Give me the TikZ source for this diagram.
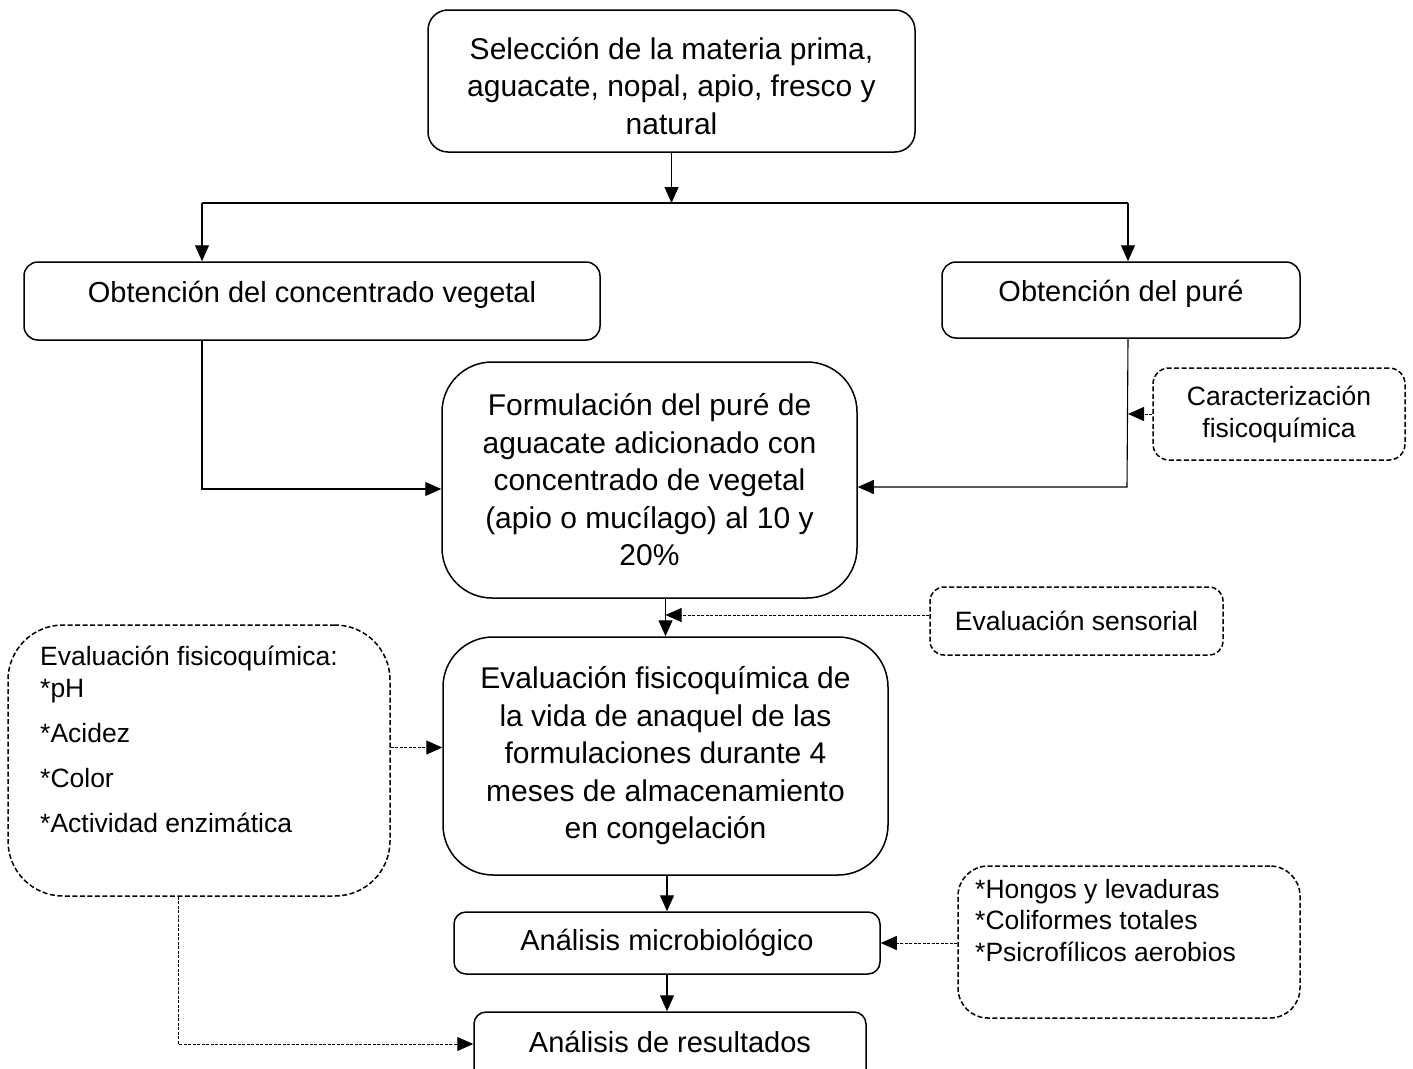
\documentclass[tikz,border=0pt]{standalone}
\usepackage{fontspec}
\setmainfont{Liberation Sans}
\usetikzlibrary{arrows.meta}
\begin{document}
\begin{tikzpicture}[x=1pt,y=-1pt,
  box/.style={draw, line width=1.5pt, rounded corners=#1, inner sep=0pt, align=center},
  dbox/.style={box=#1, dash pattern=on 5pt off 2.5pt},
  big/.style={font=\fontsize{30}{37.5}\selectfont},
  mid/.style={font=\fontsize{29}{36}\selectfont},
  small/.style={font=\fontsize{26.5}{32}\selectfont},
  ln/.style={line width=1.1pt},
  arr/.style={line width=1.1pt, -{Triangle[length=16pt,width=14pt]}},
  darr/.style={line width=1pt, dash pattern=on 3pt off 1.5pt, -{Triangle[length=16pt,width=14pt]}}
]
\useasboundingbox (0,0) rectangle (1413,1068);

% main boxes
\node[box=20pt, big, minimum width=487pt, minimum height=142pt] (top) at (671.5,81)
  {\\[-6pt]Selección de la materia prima,\\aguacate, nopal, apio, fresco y\\natural};
\node[box=14pt, mid, minimum width=576pt, minimum height=78pt, text depth=18pt] (conc) at (312,301)
  {Obtención del concentrado vegetal};
\node[box=14pt, mid, minimum width=358pt, minimum height=76pt, text depth=18pt] (pure) at (1121,300)
  {Obtención del puré};
\node[box=50pt, big, minimum width=415pt, minimum height=236pt] (form) at (649.5,480)
  {Formulación del puré de\\aguacate adicionado con\\concentrado de vegetal\\(apio o mucílago) al 10 y\\20\%};
\node[box=50pt, big, minimum width=445pt, minimum height=238pt] (eval) at (665.5,756)
  {Evaluación fisicoquímica de\\la vida de anaquel de las\\formulaciones durante 4\\meses de almacenamiento\\en congelación};
\node[box=12pt, mid, minimum width=426pt, minimum height=62pt] (micro) at (667,943)
  {Análisis microbiológico};
\node[box=12pt, mid, minimum width=392pt, minimum height=74pt, text depth=14pt] (res) at (670,1049)
  {Análisis de resultados};

% dashed side boxes
\node[dbox=16pt, small, minimum width=252pt, minimum height=92pt] (car) at (1279,414)
  {Caracterización\\fisicoquímica};
\node[dbox=14pt, small, minimum width=293pt, minimum height=68pt] (sens) at (1076.5,621)
  {Evaluación sensorial};
\node[dbox=55pt, minimum width=382pt, minimum height=271pt] (lbox) at (199,760.5) {};
\node[anchor=base west, inner sep=0pt, font=\fontsize{26.5}{32}\selectfont] (ltext) at (40,665)
  {\begin{tabular}[t]{@{}l@{}}Evaluación fisicoquímica:\\{}*pH\\[13pt]{}*Acidez\\[13pt]{}*Color\\[13pt]{}*Actividad enzimática\end{tabular}};
\node[dbox=30pt, minimum width=342pt, minimum height=152pt] (hbox) at (1129,942) {};
\node[anchor=base west, inner sep=0pt, font=\fontsize{26.5}{31.5}\selectfont] (htext) at (975,898)
  {\begin{tabular}[t]{@{}l@{}}*Hongos y levaduras\\{}*Coliformes totales\\{}*Psicrofílicos aerobios\end{tabular}};

% split
\coordinate (sM) at (671.5,203);
\coordinate (sL) at (202,203);
\coordinate (sR) at (1128,203);
\draw[arr] (top.south) -- (sM);
\draw[ln] (sL) -- (sR);
\draw[arr] (sL) -- (sL |- conc.north);
\draw[arr] (sR) -- (sR |- pure.north);

% into formulation
\coordinate (jL) at (202,489);
\coordinate (jR) at (1127,487);
\draw[arr] (sL |- conc.south) -- (jL) -- (jL -| form.west);
\draw[arr] (sR |- pure.south) -- (jR) -- (jR -| form.east);
\draw[darr] (car.west) -- (car.west -| sR);

% formulation to evaluation
\draw[arr] (form.south -| eval.north) -- (eval.north);
\draw[darr] ([yshift=6pt]sens.west) -- ([yshift=6pt]sens.west -| eval.north);
\draw[darr] ([yshift=13pt]lbox.east) -- ([yshift=13pt]lbox.east -| eval.west);

% evaluation to micro to results
\draw[arr] (micro.north |- eval.south) -- (micro.north);
\draw[darr] (hbox.west |- micro.east) -- (micro.east);
\draw[arr] (micro.south) -- (micro.south |- res.north);
\coordinate (jB) at (178,1044);
\draw[darr] (jB |- lbox.south) -- (jB) -- (jB -| res.west);
\end{tikzpicture}
\end{document}
